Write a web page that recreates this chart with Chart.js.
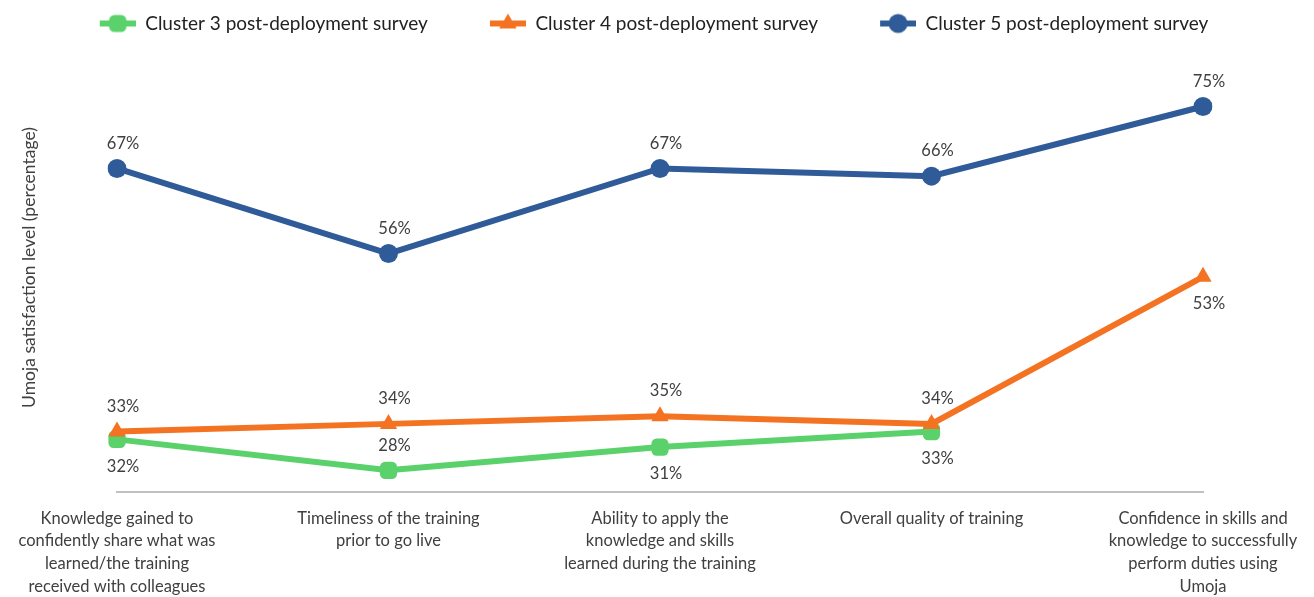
<!DOCTYPE html>
<html lang="en">
<head>
    <meta charset="UTF-8">
    <title>Umoja satisfaction level</title>
    <script src="https://cdn.jsdelivr.net/npm/chart.js"></script>
    <style>
        body {
            margin: 0;
            background: #ffffff;
        }
        .wrap {
            width: 1314px;
            height: 597px;
        }
    </style>
</head>
<body>
    <div class="wrap"><canvas id="chart"></canvas></div>

    <script>
        // Categories (multi-line, as on the original axis)
        const categories = [
            ['Knowledge gained to', 'confidently share what was', 'learned/the training', 'received with colleagues'],
            ['Timeliness of the training', 'prior to go live'],
            ['Ability to apply the', 'knowledge and skills', 'learned during the training'],
            ['Overall quality of training'],
            ['Confidence in skills and', 'knowledge to successfully', 'perform duties using', 'Umoja']
        ];

        const seriesNames = [
            'Cluster 3 post-deployment survey',
            'Cluster 4 post-deployment survey',
            'Cluster 5 post-deployment survey'
        ];

        const cluster3 = [32, 28, 31, 33, null];
        const cluster4 = [33, 34, 35, 34, 53];
        const cluster5 = [67, 56, 67, 66, 75];

        const yTitle = 'Umoja satisfaction level (percentage)';

        const GREEN = '#5ad16b';
        const ORANGE = '#f47322';
        const BLUE = '#2f5b98';
        const FONT = 'Lato, "Open Sans", sans-serif';

        // legend icon: short line with the marker on it (blank space on the left acts as item gap)
        function legendIcon(color, style, radius) {
            const c = document.createElement('canvas');
            c.width = 88;
            c.height = 24;
            const g = c.getContext('2d');
            g.strokeStyle = color;
            g.fillStyle = color;
            g.lineWidth = 6;
            g.beginPath();
            g.moveTo(52, 12);
            g.lineTo(88, 12);
            g.stroke();
            Chart.helpers.drawPoint(g, { pointStyle: style, radius: radius, rotation: 0, borderWidth: 0 }, 70, 12);
            return c;
        }

        // value labels next to each point
        const valueLabels = {
            id: 'valueLabels',
            afterDatasetsDraw(chart) {
                const ctx = chart.ctx;
                ctx.save();
                ctx.font = '16.5px ' + FONT;
                ctx.fillStyle = '#404040';
                ctx.textAlign = 'center';
                ctx.textBaseline = 'middle';
                chart.data.datasets.forEach((ds, i) => {
                    const meta = chart.getDatasetMeta(i);
                    meta.data.forEach((pt, j) => {
                        const v = ds.data[j];
                        if (v === null || v === undefined) return;
                        const below = ds.labelBelow[j];
                        ctx.fillText(v + '%', pt.x + 6, pt.y + (below ? 27 : -25));
                    });
                });
                ctx.restore();
            }
        };

        const ctx = document.getElementById('chart').getContext('2d');
        new Chart(ctx, {
            type: 'line',
            data: {
                labels: categories,
                datasets: [
                    {
                        label: seriesNames[0],
                        data: cluster3,
                        borderColor: GREEN,
                        backgroundColor: GREEN,
                        borderWidth: 6,
                        pointStyle: 'rectRounded',
                        pointRadius: 10,
                        pointBorderWidth: 0,
                        order: 3,
                        labelBelow: [true, false, true, true, true],
                        icon: legendIcon(GREEN, 'rectRounded', 10)
                    },
                    {
                        label: seriesNames[1],
                        data: cluster4,
                        borderColor: ORANGE,
                        backgroundColor: ORANGE,
                        borderWidth: 6,
                        pointStyle: 'triangle',
                        pointRadius: 10,
                        pointBorderWidth: 0,
                        order: 2,
                        labelBelow: [false, false, false, false, true],
                        icon: legendIcon(ORANGE, 'triangle', 10)
                    },
                    {
                        label: seriesNames[2],
                        data: cluster5,
                        borderColor: BLUE,
                        backgroundColor: BLUE,
                        borderWidth: 6,
                        pointStyle: 'circle',
                        pointRadius: 9.5,
                        pointBorderWidth: 0,
                        order: 1,
                        labelBelow: [false, false, false, false, false],
                        icon: legendIcon(BLUE, 'circle', 9.5)
                    }
                ]
            },
            options: {
                responsive: true,
                maintainAspectRatio: false,
                animation: false,
                layout: {
                    padding: { top: 4, left: 10, right: 68, bottom: 0 }
                },
                plugins: {
                    tooltip: { enabled: false },
                    legend: {
                        position: 'top',
                        labels: {
                            usePointStyle: true,
                            pointStyleWidth: 88,
                            padding: 10,
                            color: '#222222',
                            font: { family: FONT, size: 19 },
                            generateLabels(chart) {
                                return chart.data.datasets.map((ds, i) => ({
                                    text: ds.label,
                                    pointStyle: ds.icon,
                                    fillStyle: ds.borderColor,
                                    strokeStyle: ds.borderColor,
                                    lineWidth: 0,
                                    fontColor: '#222222',
                                    datasetIndex: i,
                                    hidden: false
                                }));
                            }
                        }
                    }
                },
                scales: {
                    x: {
                        offset: false,
                        grid: { display: false, drawTicks: false },
                        border: { display: true, color: '#c0c0c0', width: 2 },
                        ticks: {
                            autoSkip: false,
                            maxRotation: 0,
                            padding: 15,
                            color: '#404040',
                            font: { family: FONT, size: 16.5, lineHeight: 1.374 }
                        },
                        afterFit(scale) {
                            scale.height = 105;
                            scale.paddingLeft = 117;
                            scale.paddingRight = 111;
                        }
                    },
                    y: {
                        min: 25.2,
                        max: 83.2,
                        grid: { display: false, drawTicks: false },
                        border: { display: false },
                        ticks: { display: false },
                        title: {
                            display: true,
                            text: yTitle,
                            color: '#404040',
                            font: { family: FONT, size: 17.5 },
                            padding: { top: 9, bottom: 0 }
                        },
                        afterFit(scale) {
                            scale.width = 107;
                        }
                    }
                }
            },
            plugins: [valueLabels]
        });
    </script>
</body>
</html>
